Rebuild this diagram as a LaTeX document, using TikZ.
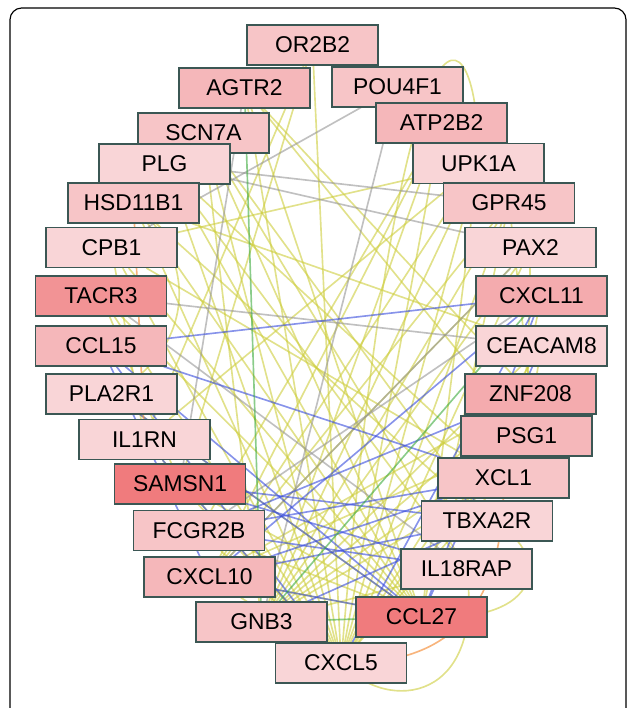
\documentclass[tikz,border=0pt]{standalone}
\usepackage{fontspec}
\setmainfont{Liberation Sans}
\usetikzlibrary{backgrounds}
\definecolor{pkpale}{HTML}{F9D5D7}
\definecolor{pklight}{HTML}{F7C5C7}
\definecolor{pkmid}{HTML}{F5B7BA}
\definecolor{pkdeep}{HTML}{F4ABAE}
\definecolor{pkstrong}{HTML}{F29395}
\definecolor{pkhot}{HTML}{F07B7D}
\definecolor{geneline}{HTML}{3B5754}
\definecolor{edgeyel}{RGB}{205,205,60}
\definecolor{edgegray}{RGB}{150,150,150}
\definecolor{edgeblue}{RGB}{55,75,220}
\definecolor{edgegreen}{RGB}{60,170,60}
\definecolor{edgeorange}{RGB}{245,155,80}
\tikzset{gene/.style={draw=geneline,line width=0.9pt,fill=pkpale,minimum width=3.93cm,
    minimum height=1.2cm,inner sep=0pt,font=\fontsize{19.5}{22}\selectfont},
  genelt/.style={gene,fill=pklight},
  genemd/.style={gene,fill=pkmid},
  genedp/.style={gene,fill=pkdeep},
  genest/.style={gene,fill=pkstrong},
  genehot/.style={gene,fill=pkhot},
  link/.style={line width=1.4pt,draw opacity=.6},
  yel/.style={link,draw=edgeyel},
  gry/.style={link,draw=edgegray},
  blu/.style={link,draw=edgeblue},
  grn/.style={link,draw=edgegreen},
  org/.style={link,draw=edgeorange,draw opacity=.75}}

\begin{document}
\begin{tikzpicture}[x=0.03cm,y=-0.03cm]
\useasboundingbox (0,0) rectangle (627,708);
\begin{scope}
\clip (0,0) rectangle (627,708);
\draw[line width=1pt,rounded corners=10pt] (10,760) -- (10,8) -- (626,8) -- (626,760);
\end{scope}
% genes, top to bottom
\node[genelt] (or2b2) at (312.5,45) {OR2B2};
\node[genemd] (agtr2) at (244.5,88) {AGTR2};
\node[genelt] (pou4f1) at (397.5,87) {POU4F1};
\node[genemd] (atp2b2) at (441.5,123) {ATP2B2};
\node[genelt] (scn7a) at (203.5,133) {SCN7A};
\node[gene] (upk1a) at (478.5,163.5) {UPK1A};
\node[gene] (plg) at (164.5,164) {PLG};
\node[genelt] (gpr45) at (509,203) {GPR45};
\node[genelt] (hsd11b1) at (133.5,203) {HSD11B1};
\node[gene] (cpb1) at (111.5,247.5) {CPB1};
\node[gene] (pax2) at (530.5,247.5) {PAX2};
\node[genest] (tacr3) at (101,296) {TACR3};
\node[genedp] (cxcl11) at (541.5,296) {CXCL11};
\node[genemd] (ccl15) at (101,346) {CCL15};
\node[gene] (ceacam8) at (541.5,346) {CEACAM8};
\node[gene] (pla2r1) at (111.5,394) {PLA2R1};
\node[genedp] (znf208) at (530.5,394) {ZNF208};
\node[gene] (il1rn) at (144.5,439.5) {IL1RN};
\node[genemd] (psg1) at (526.5,436) {PSG1};
\node[genehot] (samsn1) at (180,484) {SAMSN1};
\node[genelt] (xcl1) at (503.5,478) {XCL1};
\node[genelt] (fcgr2b) at (199,530.5) {FCGR2B};
\node[gene] (tbxa2r) at (487,521) {TBXA2R};
\node[genemd] (cxcl10) at (209.5,577) {CXCL10};
\node[gene] (il18rap) at (466.5,569) {IL18RAP};
\node[genelt] (gnb3) at (261.5,622) {GNB3};
\node[genehot] (ccl27) at (421.5,617) {CCL27};
\node[gene] (cxcl5) at (341,663) {CXCL5};
% interactions
\begin{pgfonlayer}{background}
\foreach \a/\b in {cxcl5/or2b2,cxcl5/agtr2,cxcl5/scn7a,cxcl5/plg,cxcl5/hsd11b1,cxcl5/cpb1,
    cxcl5/tacr3,cxcl5/gpr45,cxcl5/pax2,cxcl5/upk1a,cxcl5/atp2b2,cxcl5/il1rn,cxcl5/samsn1,
    cxcl5/fcgr2b,cxcl5/cxcl10,cxcl5/xcl1,cxcl5/psg1,cxcl5/znf208,cxcl5/ceacam8,
    ccl27/agtr2,ccl27/scn7a,ccl27/plg,ccl27/hsd11b1,ccl27/tacr3,ccl27/cpb1,ccl27/pla2r1,
    ccl27/samsn1,ccl27/cxcl10,ccl27/fcgr2b,ccl27/upk1a,ccl27/gpr45,
    gnb3/gpr45,gnb3/pax2,gnb3/upk1a,gnb3/atp2b2,gnb3/ceacam8,gnb3/znf208,gnb3/psg1,
    gnb3/il18rap,gnb3/xcl1,gnb3/scn7a,
    cxcl10/pax2,cxcl10/gpr45,cxcl10/znf208,cxcl10/psg1,cxcl10/atp2b2,
    agtr2/psg1,agtr2/znf208,scn7a/il18rap,scn7a/tbxa2r,cpb1/upk1a,upk1a/il1rn,plg/xcl1,
    hsd11b1/ceacam8,or2b2/il1rn,or2b2/samsn1,il18rap/plg,tbxa2r/hsd11b1,xcl1/cpb1,
    cpb1/il1rn,tacr3/samsn1,pax2/psg1,cxcl11/xcl1,ceacam8/psg1,gpr45/znf208,
    atp2b2/fcgr2b,upk1a/cxcl10}
  \draw[yel] (\a) -- (\b);
\draw[yel] (hsd11b1.center) .. controls (200,260) and (195,350) .. (pla2r1.center);
\draw[yel] (cxcl5.center) .. controls (400,-55) and (480,0) .. (upk1a.center);
\draw[yel] (ccl27.center) .. controls (560,625) and (545,540) .. (tbxa2r.center);
\draw[yel] (cxcl5.center) .. controls (390,715) and (485,700) .. (il18rap.center);
\foreach \a/\b in {tacr3/ceacam8,tacr3/il18rap,pou4f1/gnb3,pou4f1/cpb1,plg/gpr45,
    plg/pax2,agtr2/samsn1,cxcl11/fcgr2b,pax2/cxcl10}
  \draw[gry] (\a) -- (\b);
\foreach \a/\b in {ccl15/cxcl11,ccl15/xcl1,ccl15/ccl27,ccl15/cxcl10,ccl15/cxcl5,
    cxcl11/cxcl10,cxcl11/ccl27,cxcl11/cxcl5,fcgr2b/znf208,fcgr2b/xcl1,fcgr2b/il18rap,
    samsn1/tbxa2r,samsn1/il18rap,il1rn/cxcl5,pla2r1/ccl27,cxcl10/tbxa2r,cxcl10/ccl27,
    cxcl10/xcl1,gnb3/tbxa2r,ceacam8/ccl27}
  \draw[blu] (\a) -- (\b);
\foreach \a/\b in {agtr2/gnb3,cxcl11/gnb3,gnb3/ccl27}
  \draw[grn] (\a) -- (\b);
\draw[org] (hsd11b1) -- (il1rn);
\draw[org] (cxcl5.center) .. controls (440,665) and (505,620) .. (xcl1.center);
\end{pgfonlayer}
\end{tikzpicture}
\end{document}
